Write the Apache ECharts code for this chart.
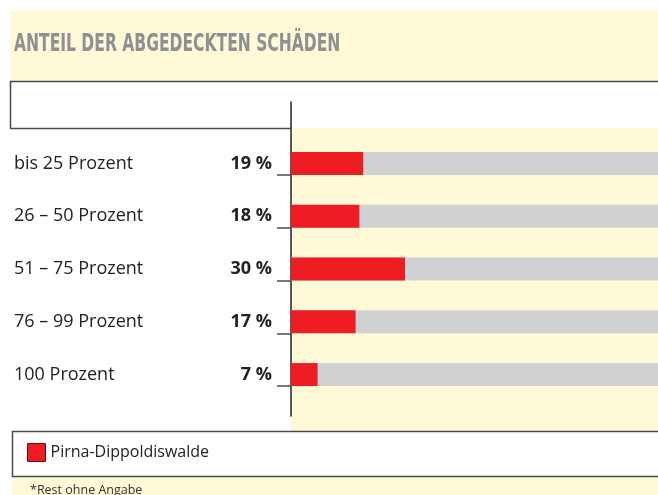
<!DOCTYPE html>
<html>
<head>
<meta charset="utf-8">
<script src="https://cdn.jsdelivr.net/npm/echarts@6/dist/echarts.min.js"></script>
<style>
html,body{margin:0;padding:0;background:#fff;}
#c{width:658px;height:495px;}
</style>
</head>
<body>
<div id="c"></div>
<script>
const titleText = 'ANTEIL DER ABGEDECKTEN SCHÄDEN';
const footnote = '*Rest ohne Angabe';
const seriesName = 'Pirna-Dippoldiswalde';
const categories = ['bis 25 Prozent', '26 – 50 Prozent', '51 – 75 Prozent', '76 – 99 Prozent', '100 Prozent'];
const values = [19, 18, 30, 17, 7];
// the reference crops the 0–100 % scale at the right edge; visible range ends near 96.6 %
const visibleMax = 96.6;

const YELLOW = '#fef9d6';
const FRAME = '#4a4a4a';
const chart = echarts.init(document.getElementById('c'), null, {renderer: 'canvas'});

const option = {
  backgroundColor: '#ffffff',
  animation: false,
  title: [
    {
      text: footnote, left: 25, top: 479,
      textStyle: {fontFamily: 'Open Sans', fontWeight: 'normal', fontSize: 12.5, color: '#333'}
    }
  ],
  legend: {
    left: 22, top: 438, icon: 'rect', itemWidth: 18, itemHeight: 18,
    data: [seriesName],
    itemStyle: {borderColor: '#6b0e10', borderWidth: 1},
    textStyle: {fontFamily: 'Open Sans', fontSize: 16, color: '#222'}
  },
  graphic: [
    {type: 'rect', z: -10, shape: {x: 10, y: 11, width: 648, height: 70}, style: {fill: YELLOW}},
    {type: 'rect', z: -10, shape: {x: 291, y: 128, width: 367, height: 303}, style: {fill: YELLOW}},
    {type: 'rect', z: -10, shape: {x: 12, y: 477, width: 646, height: 18}, style: {fill: YELLOW}},
    {
      type: 'text', z: 5, x: 14, y: 45, scaleX: 0.72, scaleY: 1.03,
      style: {text: titleText, fill: '#8e9094', font: 'bold 24px "DejaVu Sans Condensed", "DejaVu Sans", sans-serif', textVerticalAlign: 'middle', verticalAlign: 'middle'}
    },
    {type: 'polyline', z: 20, shape: {points: [[10.5, 128.5], [10.5, 81.5], [658, 81.5]]}, style: {stroke: FRAME, lineWidth: 1.5, fill: null}},
    {type: 'line', z: 20, shape: {x1: 10, y1: 128.5, x2: 291, y2: 128.5}, style: {stroke: FRAME, lineWidth: 1.5}},
    {type: 'polyline', z: 20, shape: {points: [[658, 431.5], [12.5, 431.5], [12.5, 476.5], [658, 476.5]]}, style: {stroke: FRAME, lineWidth: 1.5, fill: null}}
  ],
  grid: [
    {left: 291, top: 137, right: 0, height: 264},
    {left: 291, top: 148.5, right: 0, height: 264},
    {left: 291, top: 102, right: 0, height: 314}
  ],
  xAxis: [
    {gridIndex: 0, type: 'value', min: 0, max: visibleMax, show: false},
    {gridIndex: 1, type: 'value', min: 0, max: visibleMax, show: false},
    {gridIndex: 2, type: 'value', min: 0, max: visibleMax, show: false}
  ],
  yAxis: [
    {
      gridIndex: 0, type: 'category', inverse: true, data: categories,
      axisLine: {show: false}, axisTick: {show: false},
      axisLabel: {align: 'left', margin: 277, fontFamily: 'Open Sans', fontSize: 18, color: '#222'}
    },
    {
      gridIndex: 1, type: 'category', inverse: true, data: categories,
      axisLine: {show: false}, axisLabel: {show: false},
      axisTick: {show: true, alignWithLabel: true, length: 14, lineStyle: {color: FRAME, width: 1.5}}
    },
    {
      gridIndex: 2, type: 'value', min: 0, max: 1,
      axisLine: {show: true, lineStyle: {color: '#222', width: 1.5}},
      axisTick: {show: false}, axisLabel: {show: false}, splitLine: {show: false}
    }
  ],
  series: [
    {
      name: seriesName, type: 'bar', xAxisIndex: 0, yAxisIndex: 0,
      data: values, barWidth: 23,
      itemStyle: {color: '#ee1d24'},
      showBackground: true,
      backgroundStyle: {color: '#d0d1d3'},
      label: {
        show: true, position: 'left', distance: 19,
        formatter: '{c} %',
        fontFamily: 'Open Sans', fontWeight: 'bold', fontSize: 18, color: '#222'
      }
    }
  ]
};
chart.setOption(option);
</script>
</body>
</html>
